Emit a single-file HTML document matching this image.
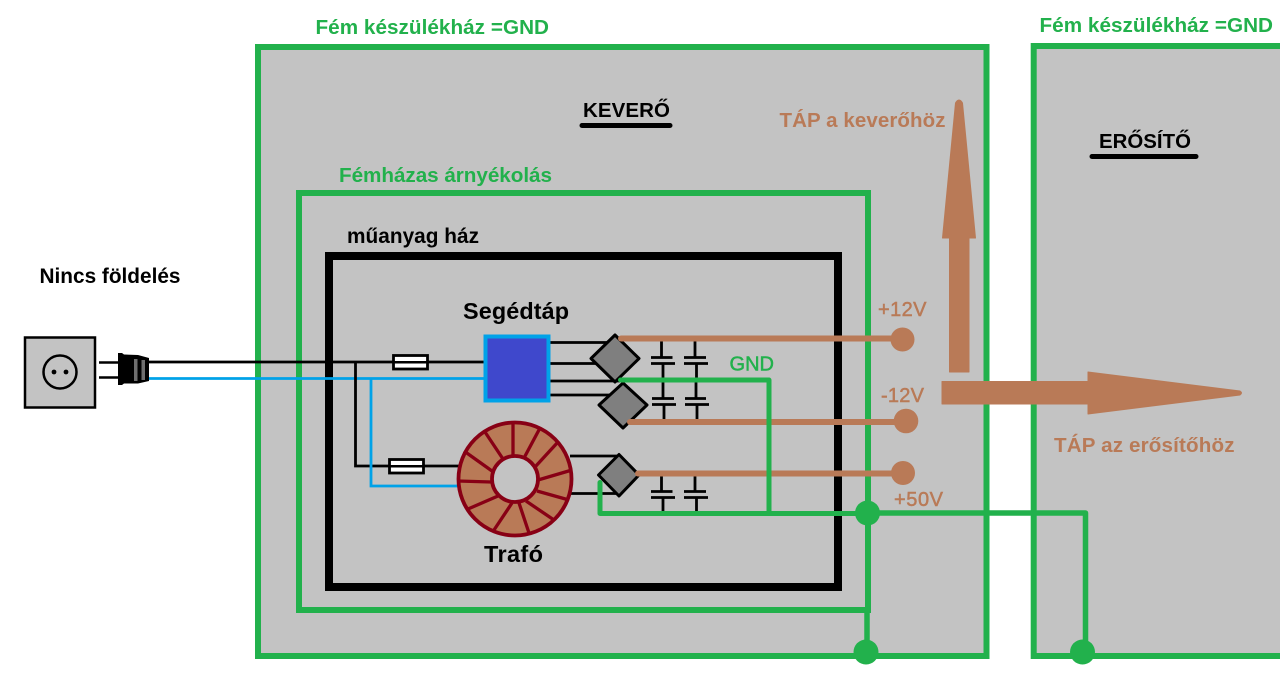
<!DOCTYPE html>
<html lang="hu">
<head>
<meta charset="utf-8">
<title>Földelési diagram</title>
<style>
html,body{margin:0;padding:0;background:#fff;}
svg{display:block;}
text{font-family:"Liberation Sans",sans-serif;font-weight:bold;}
.g{fill:#22b14c;}
.b{fill:#b97a57;}
.k{fill:#000;}
.n{font-weight:normal;stroke-width:.5px;}
</style>
</head>
<body>
<svg width="1280" height="683" viewBox="0 0 1280 683" xmlns="http://www.w3.org/2000/svg">
<rect width="1280" height="683" fill="#fff"/>

<!-- enclosures -->
<rect x="258" y="47" width="728.500" height="609" fill="#c3c3c3" stroke="#22b14c" stroke-width="6"/>
<path d="M1290 46H1033.700V656H1290V46Z" fill="#c3c3c3" stroke="#22b14c" stroke-width="6"/>
<rect x="299" y="193" width="569" height="417" fill="none" stroke="#22b14c" stroke-width="6"/>
<rect x="329" y="256" width="509" height="331" fill="none" stroke="#000" stroke-width="8"/>

<!-- socket and plug -->
<rect x="25" y="337.500" width="70" height="70" fill="#c3c3c3" stroke="#000" stroke-width="2.500"/>
<circle cx="60" cy="372" r="16.500" fill="none" stroke="#000" stroke-width="2.500"/>
<circle cx="54" cy="372" r="2.400"/><circle cx="66" cy="372" r="2.400"/>
<path d="M99 362.500H120M99 377.500H120" stroke="#000" stroke-width="2.500"/>
<path d="M118 353H122L124 354.500L138 355L149 358V381L138 383.500L124 383.500L122 385H118Z" fill="#000"/>
<rect x="134" y="359" width="3.500" height="22" fill="#6e6e6e"/>
<rect x="141.500" y="360" width="3.500" height="20" fill="#6e6e6e"/>

<!-- mains wiring -->
<path d="M149 362H484" stroke="#000" stroke-width="2.800" fill="none"/>
<path d="M149 378.500H484" stroke="#00a2e8" stroke-width="2.800" fill="none"/>
<path d="M355.500 362V466H459" stroke="#000" stroke-width="2.800" fill="none"/>
<path d="M371 378.500V486H458" stroke="#00a2e8" stroke-width="2.800" fill="none"/>
<rect x="393.500" y="355.500" width="34" height="13.500" fill="#fff" stroke="#000" stroke-width="2.800"/>
<path d="M393 362.300H427" stroke="#000" stroke-width="2.500"/>
<rect x="389.500" y="459.500" width="34" height="13.500" fill="#fff" stroke="#000" stroke-width="2.800"/>
<path d="M389 466.300H423" stroke="#000" stroke-width="2.500"/>

<!-- output lines to rectifiers -->
<path d="M550 342.500H612M550 363.500H600M550 381H620M550 395H612M570 456H619M570 493.500H619" stroke="#000" stroke-width="2.800" fill="none"/>

<!-- auxiliary supply -->
<rect x="485.500" y="336.500" width="63" height="64" fill="#3f48cc" stroke="#00a2e8" stroke-width="4"/>

<!-- capacitors -->
<g stroke="#000" stroke-width="2.800" fill="none">
<path d="M661.500 340V357.500M663 363.500V380M695 340V357.500M696.500 363.500V380"/>
<path d="M651 357.500H672.500M651 363.500H675M684 357.500H706M684 363.500H708"/>
<path d="M663 380V398.500M664 404.500V421M696 380V398.500M697 404.500V421"/>
<path d="M652 398.500H674M652 404.500H676M685 398.500H706M685 404.500H709"/>
<path d="M661.500 475V491.500M663 497.500V513M695 475V491.500M696.500 497.500V513"/>
<path d="M651 491.500H672.500M651 497.500H675M684 491.500H706M684 497.500H708"/>
</g>

<!-- rectifier diamonds -->
<g fill="#7f7f7f" stroke="#000" stroke-width="3" stroke-linejoin="round">
<path d="M615 335L639 358.500L615 382L591 358.500Z"/>
<path d="M623 383L647 405L623 428L599 405Z"/>
<path d="M619 454.500L639 475L619 496L598.500 475Z"/>
</g>

<!-- power rails -->
<g stroke="#b97a57" stroke-width="6" stroke-linecap="round" fill="none">
<path d="M621 338.500H902"/>
<path d="M630 422H906"/>
<path d="M638 473.500H903"/>
</g>
<circle cx="902.500" cy="339.500" r="12" fill="#b97a57"/>
<circle cx="906" cy="421" r="12.300" fill="#b97a57"/>
<circle cx="903" cy="473" r="12" fill="#b97a57"/>

<!-- ground wiring -->
<g stroke="#22b14c" fill="none" stroke-linejoin="round" stroke-linecap="round">
<path d="M620.500 380H769V513" stroke-width="5"/>
<path d="M600 482.500V513.500H868" stroke-width="5"/>
<path d="M868 513H1085.500V652" stroke-width="5.500"/>
<path d="M867 610V652" stroke-width="5.500" stroke-linecap="butt"/>
</g>
<circle cx="867.500" cy="513" r="12.500" fill="#22b14c"/>
<circle cx="866" cy="652" r="12.500" fill="#22b14c"/>
<circle cx="1082.500" cy="652" r="12.500" fill="#22b14c"/>

<!-- transformer -->
<circle cx="515" cy="479" r="56.500" fill="#b97a57" stroke="#880015" stroke-width="3.800"/>
<circle cx="515" cy="479" r="23" fill="#c3c3c3" stroke="#880015" stroke-width="3.800"/>
<g stroke="#880015" stroke-width="3.300">
<path d="M513 423V456"/>
<path d="M540 428L524 458"/>
<path d="M558 442L535 467"/>
<path d="M572 470L538 480"/>
<path d="M569 500L537 491"/>
<path d="M554 520L526 501"/>
<path d="M529 533L519 503"/>
<path d="M494 530L512 503"/>
<path d="M468 509L498 496"/>
<path d="M458 481L491 482"/>
<path d="M464 451L492 471"/>
<path d="M485 432L503 459"/>
</g>

<!-- large arrows -->
<path d="M949.500 372V238H942.500L955.500 103Q959 97 962.500 103L975.500 238H969V372Z" fill="#b97a57" stroke="#b97a57" stroke-width="1" stroke-linejoin="round"/>
<path d="M942 381.500H1088V372L1240 391Q1243 393 1240 395L1088 414V404H942Z" fill="#b97a57" stroke="#b97a57" stroke-width="1" stroke-linejoin="round"/>

<!-- underlines -->
<path d="M582 125.500H670" stroke="#000" stroke-width="5" stroke-linecap="round"/>
<path d="M1092 156.500H1196" stroke="#000" stroke-width="5" stroke-linecap="round"/>

<!-- labels -->
<text class="g" x="315.500" y="34" font-size="20.700" textLength="233.500" lengthAdjust="spacing">Fém készülékház =GND</text>
<text class="g" x="1039.500" y="32" font-size="20.700" textLength="233.500" lengthAdjust="spacing">Fém készülékház =GND</text>
<text class="k" x="583" y="117" font-size="20.500" textLength="87" lengthAdjust="spacing">KEVERŐ</text>
<text class="k" x="1099" y="148" font-size="20.400" textLength="92" lengthAdjust="spacing">ERŐSÍTŐ</text>
<text class="b" x="779.500" y="127" font-size="20.500" textLength="166" lengthAdjust="spacing">TÁP a keverőhöz</text>
<text class="g" x="339" y="182" font-size="20.700" textLength="213" lengthAdjust="spacing">Fémházas árnyékolás</text>
<text class="k" x="347" y="243" font-size="20.800" textLength="132" lengthAdjust="spacing">műanyag ház</text>
<text class="k" x="39.500" y="283" font-size="20.800" textLength="141" lengthAdjust="spacing">Nincs földelés</text>
<text class="k" x="463" y="319" font-size="23.400" textLength="106" lengthAdjust="spacing">Segédtáp</text>
<text class="k" x="484" y="562" font-size="23.500" textLength="59" lengthAdjust="spacing">Trafó</text>
<text class="g n" stroke="#22b14c" x="729.500" y="370.500" font-size="20" textLength="44.500" lengthAdjust="spacing">GND</text>
<text class="b n" stroke="#b97a57" x="878" y="316" font-size="20" textLength="48.500" lengthAdjust="spacing">+12V</text>
<text class="b n" stroke="#b97a57" x="881" y="402" font-size="20" textLength="43" lengthAdjust="spacing">-12V</text>
<text class="b n" stroke="#b97a57" x="894" y="506" font-size="20" textLength="49" lengthAdjust="spacing">+50V</text>
<text class="b" x="1054" y="452" font-size="20.600" textLength="180.500" lengthAdjust="spacing">TÁP az erősítőhöz</text>
</svg>
</body>
</html>
